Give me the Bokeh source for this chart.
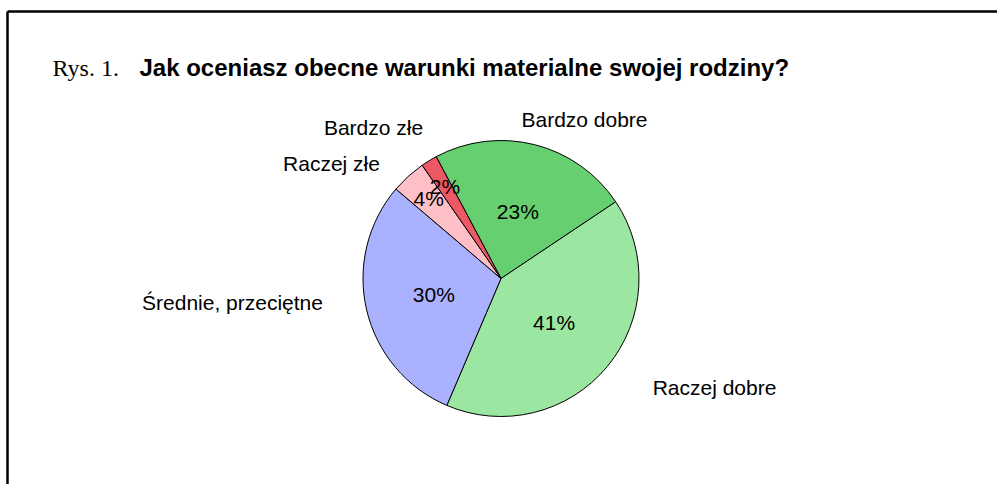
import math
from bokeh.plotting import figure
from bokeh.models import Range1d, ColumnDataSource
from bokeh.core.properties import value
from bokeh.embed import file_html
from bokeh.resources import INLINE

# ---- data ----
categories = ["Bardzo dobre", "Raczej dobre", "Średnie, przeciętne", "Raczej złe", "Bardzo złe"]
values = [23.4, 40.8, 29.8, 4.1, 1.9]
colors = ["#66CF70", "#9BE6A0", "#AAB2FF", "#FFBFC6", "#EC5864"]
title_prefix = "Rys. 1."
title_text = "Jak oceniasz obecne warunki materialne swojej rodziny?"

# ---- layout (pixels of the picture) ----
W, H = 997, 484


def sx(x):
    return x


def sy(y):
    return H - y


CX, CY, R = 500.5, 278, 138
START_DEG = -28.0  # clockwise from 12 o'clock where first slice begins
outer_label_xy = [(584, 119), (714, 387), (232, 302), (331, 163), (373, 127)]

p = figure(width=W, height=H, x_range=Range1d(0, W), y_range=Range1d(0, H),
           output_backend="svg", toolbar_location=None, min_border=0)
p.axis.visible = False
p.grid.visible = False
p.outline_line_color = None
p.background_fill_color = "white"
p.border_fill_color = "white"

# frame (left and top edges visible in the window)
p.segment(x0=[sx(7), sx(7)], y0=[sy(11), sy(11)], x1=[sx(7), W + 5], y1=[-5, sy(11)],
          line_color="black", line_width=2.5)

# wedges
total = sum(values)
starts, ends, mids = [], [], []
cum = START_DEG
for v in values:
    a0 = cum
    a1 = cum + v / total * 360.0
    cum = a1
    starts.append(math.radians(90 - a1))
    ends.append(math.radians(90 - a0))
    mids.append((a0 + a1) / 2)

src = ColumnDataSource(dict(start=starts, end=ends, color=colors, cat=categories))
p.wedge(x=sx(CX), y=sy(CY), radius=R, start_angle="start", end_angle="end",
        fill_color="color", line_color="black", line_width=1, source=src)

# percentage labels
px, py, pt = [], [], []
for v, m in zip(values, mids):
    rf = 0.5 if v >= 10 else 0.78
    px.append(sx(CX + rf * R * math.sin(math.radians(m))))
    py.append(sy(CY - rf * R * math.cos(math.radians(m))))
    pt.append(f"{round(v)}%")
p.text(x=px, y=py, text=pt, text_font=value("Liberation Sans"), text_font_size="21px",
       text_align="center", text_baseline="middle", text_color="black")

# category labels
p.text(x=[sx(a) for a, b in outer_label_xy], y=[sy(b) for a, b in outer_label_xy],
       text=categories, text_font=value("Liberation Sans"), text_font_size="21px",
       text_align="center", text_baseline="middle", text_color="black")

# title
p.text(x=[sx(52)], y=[sy(67)], text=[title_prefix], text_font=value("Liberation Serif"),
       text_font_size="24px", text_align="left", text_baseline="alphabetic", text_color="black")
p.text(x=[sx(139)], y=[sy(67)], text=[title_text], text_font=value("Liberation Sans"),
       text_font_style="bold", text_font_size="24px", text_align="left",
       text_baseline="alphabetic", text_color="black")

open("out.html", "w").write(file_html(p, INLINE))
